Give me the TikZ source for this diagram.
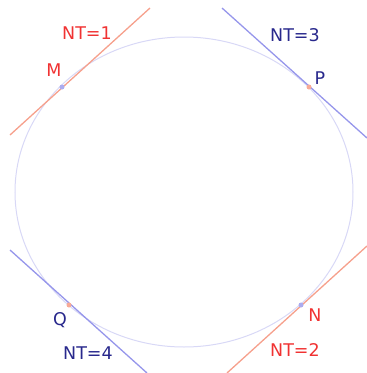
\documentclass[tikz,border=0pt]{standalone}
\usepackage{fontspec}
\setmainfont{DejaVu Sans}
\usetikzlibrary{positioning}
\definecolor{labred}{RGB}{240,50,50}
\definecolor{labblue}{RGB}{40,40,140}
\definecolor{linered}{RGB}{246,160,140}
\definecolor{lineblue}{RGB}{150,150,235}
\definecolor{circblue}{RGB}{216,216,246}

\begin{document}
\begin{tikzpicture}[x=1pt,y=-1pt,
 lbl/.style={font=\fontsize{17.5}{20}\selectfont,inner sep=0pt},
 redlbl/.style={lbl,text=labred},
 bluelbl/.style={lbl,text=labblue},
 dot/.style={circle,inner sep=0pt,minimum size=5pt}]
\useasboundingbox (0,0) rectangle (367,373);
% the circle
\draw[circblue,line width=1pt] (184,192) ellipse [x radius=169,y radius=155];
% tangent lines
\coordinate (t1a) at (10,135);  \coordinate (t1b) at (150,8);
\coordinate (t2a) at (227,373); \coordinate (t2b) at (367,246);
\coordinate (t3a) at (222,8);   \coordinate (t3b) at (367,138);
\coordinate (t4a) at (10,250);  \coordinate (t4b) at (147,373);
\draw[linered,line width=1.3pt] (t1a)--(t1b);
\draw[linered,line width=1.3pt] (t2a)--(t2b);
\draw[lineblue,line width=1.3pt] (t3a)--(t3b);
\draw[lineblue,line width=1.3pt] (t4a)--(t4b);
% touching points
\node[dot,fill=lineblue!80] (M) at (62,87) {};
\node[dot,fill=linered!90] (P) at (309,87) {};
\node[dot,fill=linered!90] (Q) at (69,305) {};
\node[dot,fill=lineblue!80] (N) at (301,305) {};
% labels
\node[redlbl] (nt1) at (87,33) {NT=1};
\node[redlbl] (labM) at (54,70) {M};
\node[bluelbl] (nt3) at (295,35) {NT=3};
\node[bluelbl] (labP) at (320,78) {P};
\node[bluelbl] (labQ) at (60,320) {Q};
\node[bluelbl] (nt4) at (88,353) {NT=4};
\node[redlbl] (labN) at (315,315) {N};
\node[redlbl] (nt2) at (295,350) {NT=2};
\end{tikzpicture}
\end{document}
